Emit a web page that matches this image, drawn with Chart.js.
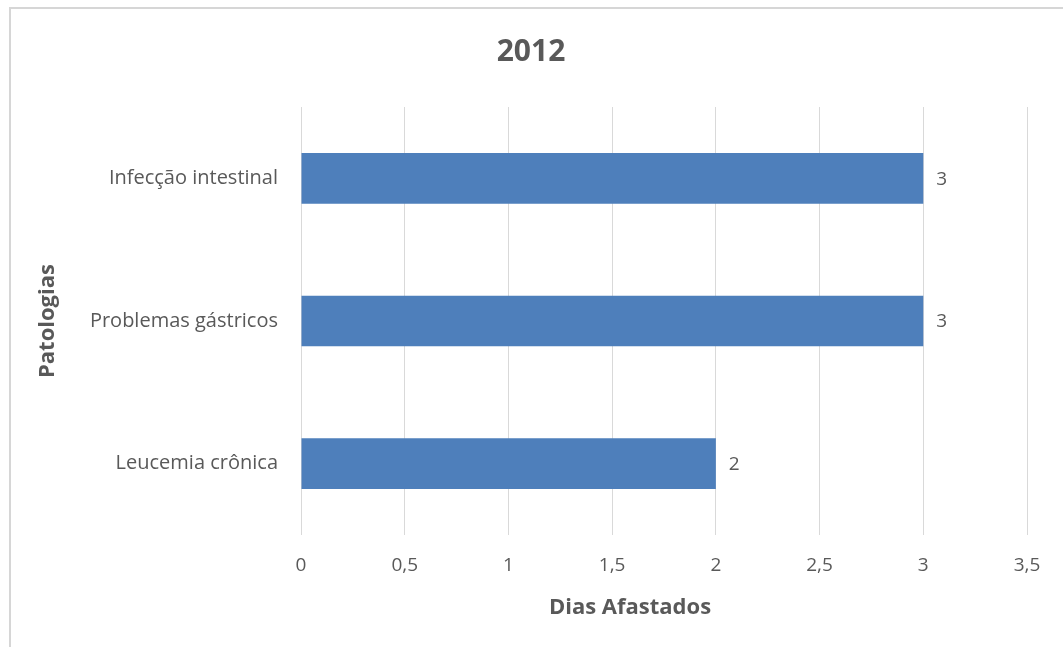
<!DOCTYPE html>
<html>
<head>
<meta charset="utf-8">
<script src="https://cdn.jsdelivr.net/npm/chart.js@4/dist/chart.umd.min.js"></script>
<style>
  html, body { margin: 0; padding: 0; background: #fff; }
  #wrap { position: absolute; left: 0; top: 0; width: 1063px; height: 647px; }
</style>
</head>
<body>
<div id="wrap"><canvas id="chart" width="1063" height="647"></canvas></div>
<script>
// Data
const categories = ['Infecção intestinal', 'Problemas gástricos', 'Leucemia crônica'];
const diasAfastados = [3, 3, 2];
const xTicks = [0, 0.5, 1, 1.5, 2, 2.5, 3, 3.5];
const xTitle = 'Dias Afastados';

const textColor = '#595959';
const fontFamily = '"Open Sans", "Noto Sans", sans-serif';

// Outer border like the Excel chart frame
const frame = {
    id: 'frame',
    beforeDraw(chart) {
        const ctx = chart.ctx;
        ctx.save();
        ctx.strokeStyle = '#d6d6d6';
        ctx.lineWidth = 2;
        ctx.beginPath();
        ctx.moveTo(10, 647);
        ctx.lineTo(10, 8);
        ctx.lineTo(1063, 8);
        ctx.stroke();
        ctx.restore();
    }
};

// Value labels at the end of the bars + the x axis title (sits left of centre in the original)
const barLabels = {
    id: 'barLabels',
    afterDatasetsDraw(chart) {
        const ctx = chart.ctx;
        const meta = chart.getDatasetMeta(0);
        ctx.save();
        ctx.fillStyle = textColor;
        ctx.font = '19px ' + fontFamily;
        ctx.textAlign = 'left';
        ctx.textBaseline = 'middle';
        meta.data.forEach((bar, i) => {
            ctx.fillText(String(diasAfastados[i]), bar.x + 13, bar.y + 1);
        });

        ctx.font = 'bold 22px ' + fontFamily;
        ctx.textAlign = 'center';
        ctx.fillText(xTitle, 630, 608);
        ctx.restore();
    }
};

const ctx = document.getElementById('chart').getContext('2d');
const myChart = new Chart(ctx, {
    type: 'bar',
    data: {
        labels: categories,
        datasets: [{
            label: xTitle,
            data: diasAfastados,
            backgroundColor: '#4e7fbb',
            borderWidth: 0,
            categoryPercentage: 1,
            barPercentage: 0.355
        }]
    },
    options: {
        indexAxis: 'y',
        responsive: false,
        animation: false,
        layout: { padding: { left: 35, right: 36, top: 0, bottom: 0 } },
        plugins: {
            legend: { display: false },
            tooltip: { enabled: false },
            title: {
                display: true,
                text: '2012',
                color: textColor,
                font: { family: fontFamily, size: 30, weight: 'bold', lineHeight: 1.2 },
                padding: { top: 34, bottom: 37 }
            }
        },
        scales: {
            x: {
                min: 0,
                max: 3.5,
                afterBuildTicks(scale) {
                    scale.ticks = xTicks.map(v => ({ value: v }));
                },
                afterFit(scale) { scale.height = 112; },
                grid: { color: '#d9d9d9', drawTicks: false },
                border: { display: false },
                ticks: {
                    color: textColor,
                    padding: 19,
                    font: { family: fontFamily, size: 19 },
                    callback: v => String(v).replace('.', ',')
                }
            },
            y: {
                afterFit(scale) { scale.width = 266; },
                grid: { display: false },
                border: { display: false },
                ticks: {
                    color: textColor,
                    padding: 15,
                    font: { family: fontFamily, size: 20 }
                },
                title: {
                    display: true,
                    text: 'Patologias',
                    color: textColor,
                    font: { family: fontFamily, size: 22, weight: 'bold' },
                    padding: { top: 0, bottom: 0 }
                }
            }
        }
    },
    plugins: [frame, barLabels]
});
</script>
</body>
</html>
